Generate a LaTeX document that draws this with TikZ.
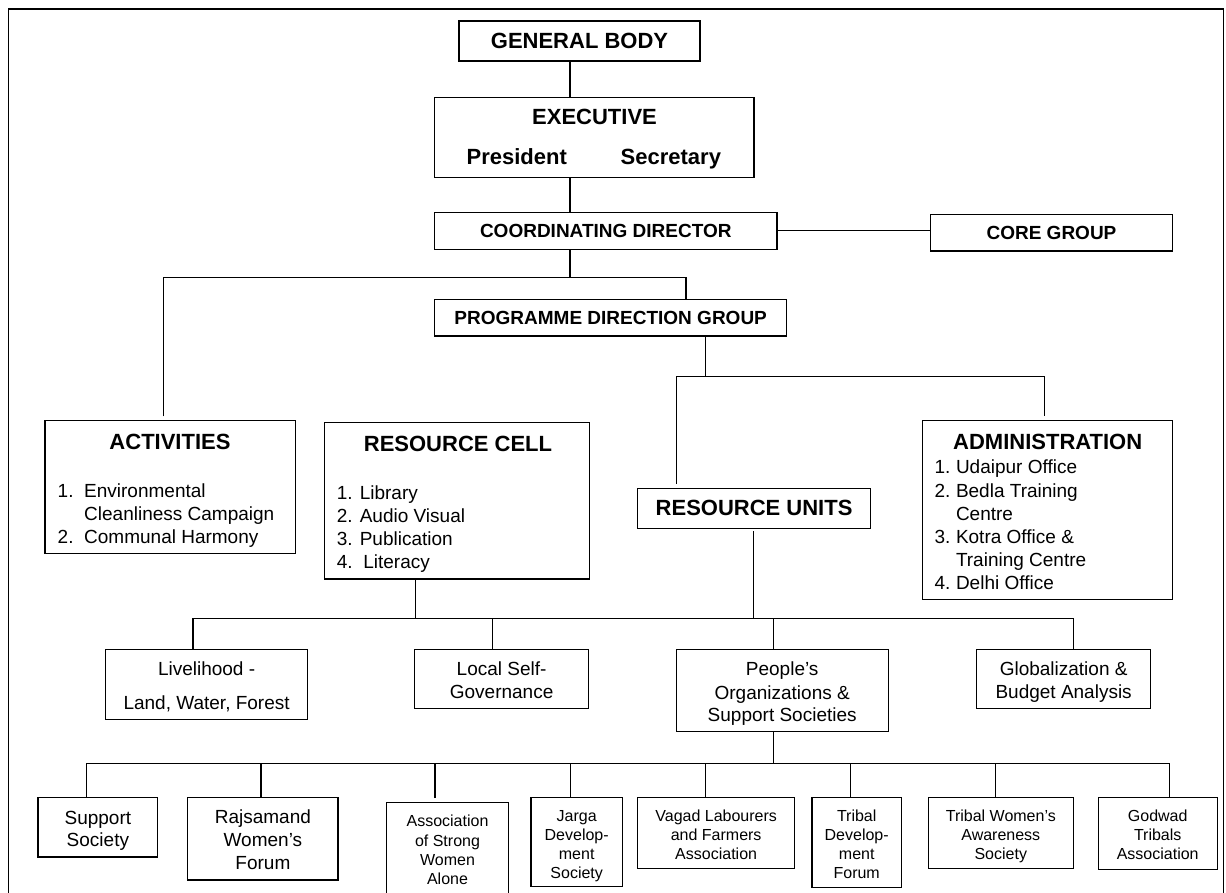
\documentclass[tikz,border=0pt]{standalone}
\usepackage{fontspec}
\setmainfont{Liberation Sans}
\begin{document}
\begin{tikzpicture}[x=1pt,y=-1pt,line width=1.1pt,
  box/.style={draw,rectangle,inner sep=0pt,outer sep=0pt,align=center},
  sz/.style 2 args={minimum width=#1,minimum height=#2},
  txt/.style={inner sep=0pt,outer sep=0pt},
  tbig/.style={font=\fontsize{22}{26}\selectfont\bfseries},
  tmidb/.style={font=\fontsize{19}{23}\selectfont\bfseries},
  tmid/.style={font=\fontsize{19}{23}\selectfont},
  tsmall/.style={font=\fontsize{16}{19}\selectfont},
  item/.style={txt,tmid,anchor=base west},
  lnm/.style={txt,tmid,anchor=base},
  lns/.style={txt,tsmall,anchor=base}]
\useasboundingbox (0,0) rectangle (1226,893);
\clip (0,0) rectangle (1226,893);
% frame
\draw (8.5,900) -- (8.5,9) -- (1223.5,9) -- (1223.5,900);

% top boxes
\node[box,tbig,sz={241pt}{40pt}] (gb) at (579.5,41) {GENERAL BODY};
\node[box,sz={319.4pt}{79.6pt}] (ex) at (594.3,137.5) {};
\node[txt,tbig] (exT) at (594.5,117) {EXECUTIVE};
\node[txt,tbig,anchor=base west] (pres) at (466.6,165) {President};
\node[txt,tbig,anchor=base east] (secr) at (721,165) {Secretary};
\node[box,tmidb,sz={342.4pt}{36.7pt}] (cd) at (605.8,230.8) {COORDINATING DIRECTOR};
\node[box,tmidb,sz={242pt}{36.3pt}] (core) at (1051.5,232.85) {CORE GROUP};
\node[box,tmidb,sz={352.2pt}{36.7pt}] (pdg) at (610.7,317.65) {PROGRAMME DIRECTION GROUP};

% activities
\node[box,sz={250.8pt}{133.4pt}] (act) at (170.4,487) {};
\node[txt,tbig] (actT) at (170,441.7) {ACTIVITIES};
\node[item] (a1n) at (57.7,497.7) {1.};
\node[item] (a1) at (84.2,497.7) {Environmental};
\node[item] (a1b) at (84.2,520.3) {Cleanliness Campaign};
\node[item] (a2n) at (57.7,543.7) {2.};
\node[item] (a2) at (84.2,543.7) {Communal Harmony};

% resource cell
\node[box,sz={265.4pt}{156.3pt}] (rc) at (456.9,500.85) {};
\node[txt,tbig] (rcT) at (458,444) {RESOURCE CELL};
\node[item] (r1) at (336.9,499.7) {1. Library};
\node[item] (r2) at (336.9,522.7) {2. Audio Visual};
\node[item] (r3) at (336.9,545.7) {3. Publication};
\node[item] (r4) at (336.9,568.7) {4.~~Literacy};

% administration
\node[box,sz={250.3pt}{179pt}] (adm) at (1047.35,509.8) {};
\node[txt,tbig] (admT) at (1047.7,441.7) {ADMINISTRATION};
\node[item] (d1n) at (934.5,473.7) {1.};
\node[item] (d1) at (956,473.7) {Udaipur Office};
\node[item] (d2n) at (934.5,497.7) {2.};
\node[item] (d2) at (956,497.7) {Bedla Training};
\node[item] (d2b) at (956,520.3) {Centre};
\node[item] (d3n) at (934.5,543.7) {3.};
\node[item] (d3) at (956,543.7) {Kotra Office \&};
\node[item] (d3b) at (956,566.3) {Training Centre};
\node[item] (d4n) at (934.5,589.3) {4.};
\node[item] (d4) at (956,589.3) {Delhi Office};

% resource units
\node[box,tbig,sz={232.4pt}{40pt}] (ru) at (754.1,508.3) {RESOURCE UNITS};

% middle row
\node[box,sz={202pt}{70pt}] (liv) at (206.6,684.3) {};
\node[lnm] (liv1) at (206.6,675.3) {Livelihood -};
\node[lnm] (liv2) at (206.6,709.7) {Land, Water, Forest};
\node[box,sz={173.6pt}{59pt}] (lsg) at (501.6,678.8) {};
\node[lnm] (lsg1) at (501.6,675.7) {Local Self-};
\node[lnm] (lsg2) at (501.6,698) {Governance};
\node[box,sz={212pt}{82pt}] (peo) at (782.2,690.3) {};
\node[lnm] (peo1) at (782.2,675.7) {People’s};
\node[lnm] (peo2) at (782.2,699) {Organizations \&};
\node[lnm] (peo3) at (782.2,721.7) {Support Societies};
\node[box,sz={174.5pt}{59pt}] (glob) at (1063.65,678.8) {};
\node[lnm] (glob1) at (1063.65,675.7) {Globalization \&};
\node[lnm] (glob2) at (1063.65,698) {Budget Analysis};

% bottom row
\node[box,sz={119.8pt}{59.3pt}] (b1) at (97.9,827.35) {};
\node[lnm] (b1a) at (97.9,824.3) {Support};
\node[lnm] (b1b) at (97.9,846.7) {Society};
\node[box,sz={150.2pt}{82.3pt}] (b2) at (262.9,838.85) {};
\node[lnm] (b2a) at (262.9,823.7) {Rajsamand};
\node[lnm] (b2b) at (262.9,846.7) {Women’s};
\node[lnm] (b2c) at (262.9,869.7) {Forum};
\node[box,sz={122pt}{93.3pt}] (b3) at (447.5,849.35) {};
\node[lns] (b3a) at (447.5,826.7) {Association};
\node[lns] (b3b) at (447.5,846) {of Strong};
\node[lns] (b3c) at (447.5,865.3) {Women};
\node[lns] (b3d) at (447.5,884.3) {Alone};
\node[box,sz={91.4pt}{89pt}] (b4) at (576.7,842.2) {};
\node[lns] (b4a) at (576.7,821) {Jarga};
\node[lns] (b4b) at (576.7,840.3) {Develop-};
\node[lns] (b4c) at (576.7,859.3) {ment};
\node[lns] (b4d) at (576.7,878.7) {Society};
\node[box,sz={156.5pt}{70.6pt}] (b5) at (716.15,833) {};
\node[lns] (b5a) at (716.15,821) {Vagad Labourers};
\node[lns] (b5b) at (716.15,840) {and Farmers};
\node[lns] (b5c) at (716.15,859.3) {Association};
\node[box,sz={89.4pt}{89.6pt}] (b6) at (856.7,842.5) {};
\node[lns] (b6a) at (856.7,821) {Tribal};
\node[lns] (b6b) at (856.7,840.3) {Develop-};
\node[lns] (b6c) at (856.7,859.3) {ment};
\node[lns] (b6d) at (856.7,878.7) {Forum};
\node[box,sz={145.4pt}{70.6pt}] (b7) at (1000.8,833) {};
\node[lns] (b7a) at (1000.8,821) {Tribal Women’s};
\node[lns] (b7b) at (1000.8,840) {Awareness};
\node[lns] (b7c) at (1000.8,859.3) {Society};
\node[box,sz={119pt}{71.6pt}] (b8) at (1157.7,833.5) {};
\node[lns] (b8a) at (1157.7,821) {Godwad};
\node[lns] (b8b) at (1157.7,840) {Tribals};
\node[lns] (b8c) at (1157.7,859.3) {Association};

% junction coordinates
\coordinate (j1) at (570,277.3);
\coordinate (j1L) at (163.7,277.3);
\coordinate (j1R) at (686,277.3);
\coordinate (j2) at (705.8,376.7);
\coordinate (j2L) at (676.2,376.7);
\coordinate (j2R) at (1044.3,376.7);
\coordinate (k1) at (415.2,618.7);
\coordinate (k2) at (753.7,618.7);
\coordinate (j3L) at (193,618.7);
\coordinate (j3a) at (492.7,618.7);
\coordinate (j3b) at (773.3,618.7);
\coordinate (j3R) at (1073.5,618.7);
\coordinate (m0) at (773.3,763.3);
\coordinate (m1) at (86.2,763.3);
\coordinate (m2) at (261,763.3);
\coordinate (m3) at (435,763.3);
\coordinate (m4) at (570.2,763.3);
\coordinate (m5) at (705.8,763.3);
\coordinate (m6) at (850.7,763.3);
\coordinate (m7) at (995.6,763.3);
\coordinate (m8) at (1169.7,763.3);

% connectors
\draw (gb.south -| j1) -- (ex.north -| j1);
\draw (ex.south -| j1) -- (cd.north -| j1);
\draw (cd.east) -- (cd.east -| core.west);
\draw (cd.south -| j1) -- (j1);
\draw[shorten <=4pt] (act.north -| j1L) -- (j1L) -- (j1R) -- (pdg.north -| j1R);
\draw (pdg.south -| j2) -- (j2);
\draw[shorten <=4.5pt,shorten >=4pt] (ru.north -| j2L) -- (j2L) -- (j2R) -- (adm.north -| j2R);
\draw (rc.south -| k1) -- (k1);
\draw[shorten <=3pt] (ru.south -| k2) -- (k2);
\draw (liv.north -| j3L) -- (j3L) -- (j3R) -- (glob.north -| j3R);
\draw (lsg.north -| j3a) -- (j3a);
\draw (peo.north -| j3b) -- (j3b);
\draw (peo.south -| m0) -- (m0);
\draw (b1.north -| m1) -- (m1) -- (m8) -- (b8.north -| m8);
\draw (b2.north -| m2) -- (m2);
\draw[shorten <=4.5pt] (b3.north -| m3) -- (m3);
\draw (b4.north -| m4) -- (m4);
\draw (b5.north -| m5) -- (m5);
\draw (b6.north -| m6) -- (m6);
\draw (b7.north -| m7) -- (m7);
\end{tikzpicture}
\end{document}
